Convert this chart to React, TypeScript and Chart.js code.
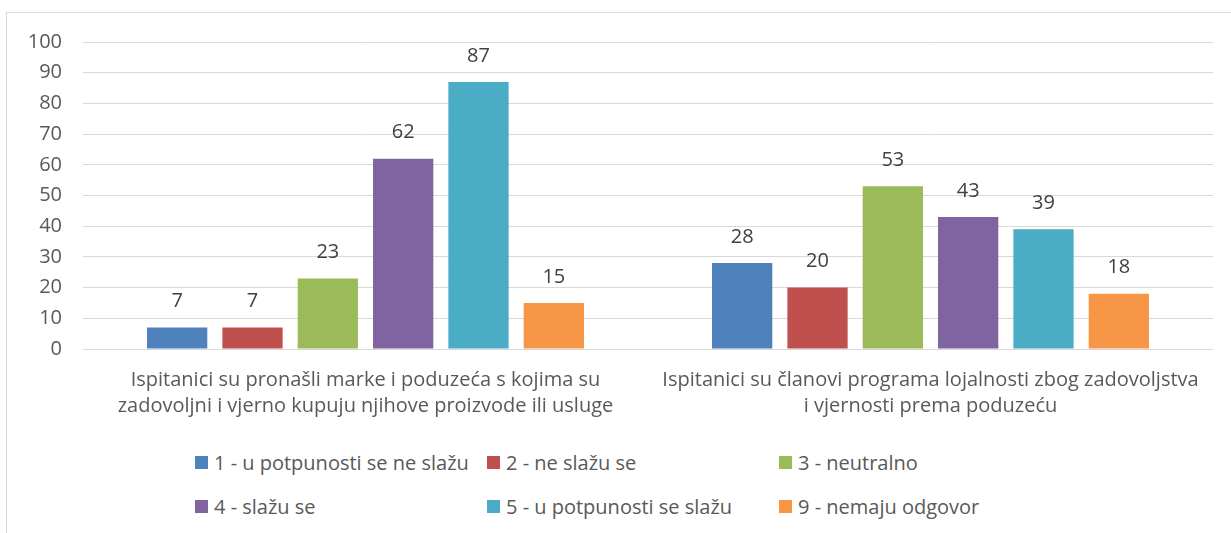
import React, { useEffect, useRef } from "react";
import { Chart, registerables } from "chart.js";

Chart.register(...registerables);

const categories: string[][] = [
  ["Ispitanici su pronašli marke i poduzeća s kojima su", "zadovoljni i vjerno kupuju njihove proizvode ili usluge"],
  ["Ispitanici su članovi programa lojalnosti zbog zadovoljstva", "i vjernosti prema poduzeću"],
];
const seriesNames = [
  "1 - u potpunosti se ne slažu",
  "2 - ne slažu se",
  "3 - neutralno",
  "4 - slažu se",
  "5 - u potpunosti se slažu",
  "9 - nemaju odgovor",
];
const seriesColors = ["#4F81BD", "#C0504D", "#9BBB59", "#8064A2", "#4BACC6", "#F79646"];
const s1 = [7, 28];
const s2 = [7, 20];
const s3 = [23, 53];
const s4 = [62, 43];
const s5 = [87, 39];
const s9 = [15, 18];
const seriesValues = [s1, s2, s3, s4, s5, s9];
const yMin = 0;
const yMax = 100;
const yStep = 10;

const FONT = "'Open Sans', Lato, sans-serif";
const FS = 20;

const dataLabelPlugin = {
  id: "dataLabels",
  afterDatasetsDraw(chart: any) {
    const ctx = chart.ctx;
    ctx.save();
    ctx.font = `${FS}px ${FONT}`;
    ctx.fillStyle = "#404040";
    ctx.textAlign = "center";
    ctx.textBaseline = "middle";
    chart.data.datasets.forEach((ds: any, i: number) => {
      const meta = chart.getDatasetMeta(i);
      meta.data.forEach((el: any, j: number) => {
        ctx.fillText(String(ds.data[j]), el.x, el.y - 26);
      });
    });
    ctx.restore();
  },
};

export default function App() {
  const ref = useRef<HTMLCanvasElement | null>(null);
  useEffect(() => {
    if (!ref.current) return;
    const chart = new Chart(ref.current, {
      type: "bar",
      data: {
        labels: categories,
        datasets: seriesNames.map((n, i) => ({
          label: n,
          data: seriesValues[i],
          backgroundColor: seriesColors[i],
          borderWidth: 0,
          categoryPercentage: 0.8,
          barPercentage: 0.8,
        })),
      },
      options: {
        animation: false,
        responsive: false,
        maintainAspectRatio: false,
        layout: { padding: { top: 29, left: 0, right: 0, bottom: 0 } },
        plugins: { legend: { display: false }, tooltip: { enabled: false } },
        scales: {
          x: {
            grid: { display: false, drawTicks: false },
            border: { display: false },
            ticks: {
              color: "#595959",
              font: { family: FONT, size: FS, lineHeight: 1.27 },
              padding: 19,
              maxRotation: 0,
              autoSkip: false,
            },
            afterFit: (s: any) => {
              s.height = 74;
              s.paddingLeft = 0;
              s.paddingRight = 0;
            },
          },
          y: {
            min: yMin,
            max: yMax,
            grid: { color: "#d9d9d9", lineWidth: 1, drawTicks: false },
            border: { display: false },
            ticks: {
              stepSize: yStep,
              color: "#595959",
              font: { family: FONT, size: FS },
              padding: 21,
            },
            afterFit: (s: any) => {
              s.width = 76;
              s.paddingTop = 12;
              s.paddingBottom = 12;
            },
          },
        },
      },
      plugins: [dataLabelPlugin],
    });
    return () => chart.destroy();
  }, []);

  const colX = [188, 480, 772];
  const rowY = [449, 493];

  return (
    <div
      style={{
        position: "absolute",
        left: 6,
        top: 12,
        width: 1240,
        height: 540,
        border: "1px solid #d9d9d9",
        boxSizing: "border-box",
        background: "#fff",
        fontFamily: FONT,
      }}
    >
      <canvas ref={ref} width={1206} height={410} style={{ position: "absolute", left: 0, top: 0 }} />
      {seriesNames.map((n, i) => {
        const c = i % 3;
        const r = Math.floor(i / 3);
        return (
          <div
            key={n}
            style={{
              position: "absolute",
              left: colX[c],
              top: rowY[r] - 14,
              height: 28,
              display: "flex",
              alignItems: "center",
              whiteSpace: "nowrap",
              color: "#595959",
              fontSize: FS,
            }}
          >
            <span style={{ display: "inline-block", width: 13, height: 13, background: seriesColors[i], marginRight: 6 }} />
            <span>{n}</span>
          </div>
        );
      })}
    </div>
  );
}
